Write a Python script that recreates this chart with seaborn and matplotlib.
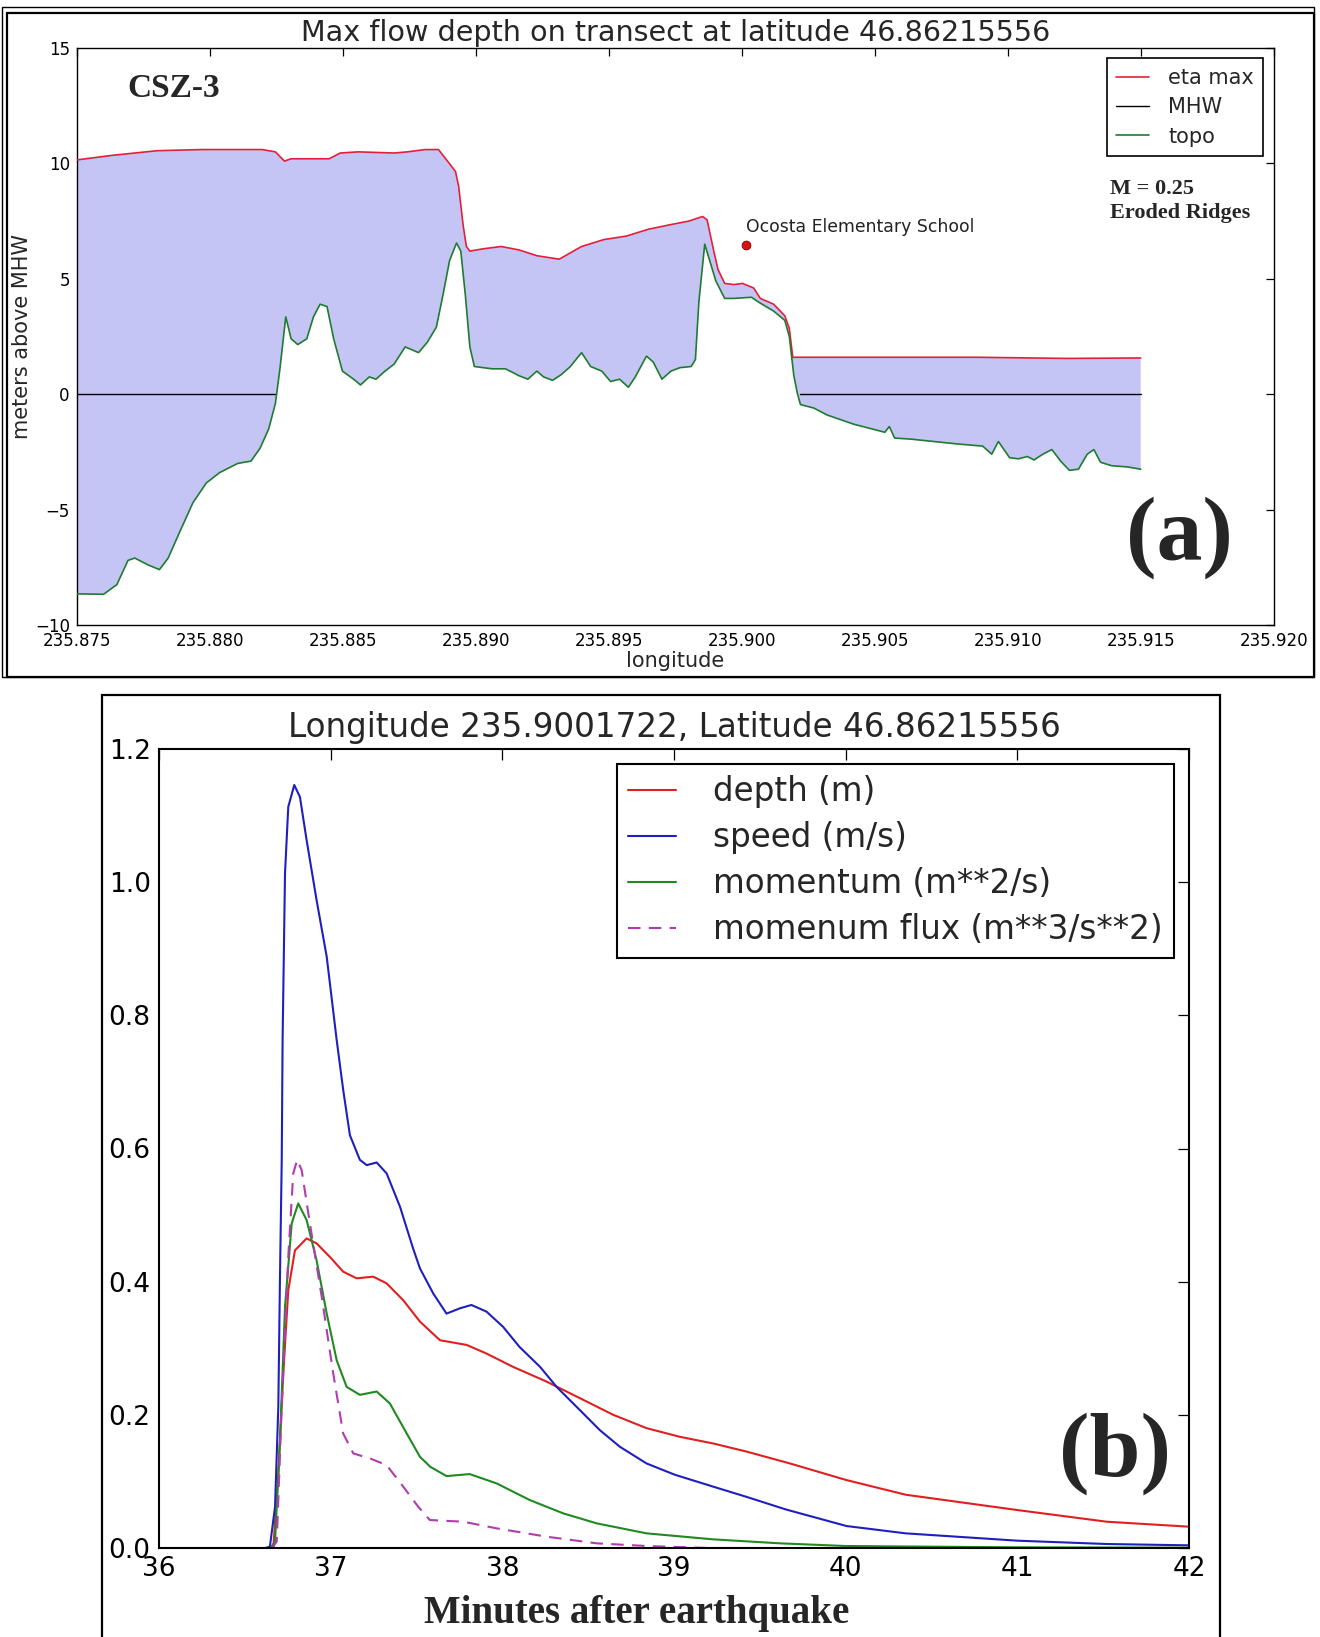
import numpy as np
import matplotlib
matplotlib.use("Agg")
import matplotlib.pyplot as plt
import seaborn as sns
from matplotlib.patches import Rectangle
from matplotlib.ticker import FormatStrFormatter, MultipleLocator

# ---- panel (a): transect at latitude 46.86215556 ----
topo_lon = [235.87500, 235.87601, 235.87651, 235.87693, 235.87718, 235.87769, 235.87811,
            235.87844, 235.87886, 235.87937, 235.87987, 235.88037, 235.88105, 235.88155,
            235.88189, 235.88222, 235.88247, 235.88264, 235.88286, 235.88306, 235.88331,
            235.88365, 235.88390, 235.88415, 235.88441, 235.88466, 235.88499, 235.88541,
            235.88567, 235.88600, 235.88625, 235.88659, 235.88693, 235.88735, 235.88785,
            235.88818, 235.88852, 235.88877, 235.88902, 235.88928, 235.88944, 235.88961,
            235.88978, 235.88995, 235.89028, 235.89062, 235.89112, 235.89163, 235.89196,
            235.89230, 235.89255, 235.89289, 235.89322, 235.89356, 235.89398, 235.89432,
            235.89474, 235.89507, 235.89541, 235.89574, 235.89600, 235.89642, 235.89667,
            235.89700, 235.89734, 235.89768, 235.89810, 235.89826, 235.89839, 235.89861,
            235.89878, 235.89903, 235.89936, 235.89970, 235.90037, 235.90062, 235.90120,
            235.90162, 235.90179, 235.90196, 235.90209, 235.90221, 235.90271, 235.90321,
            235.90421, 235.90505, 235.90538, 235.90555, 235.90575, 235.90639, 235.90722,
            235.90806, 235.90906, 235.90940, 235.90965, 235.91007, 235.91040, 235.91074,
            235.91099, 235.91132, 235.91166, 235.91199, 235.91232, 235.91266, 235.91299,
            235.91324, 235.91349, 235.91391, 235.91450, 235.91500]
topo_m = [-8.65, -8.67, -8.25, -7.2, -7.1, -7.4, -7.6,
          -7.1, -6.0, -4.7, -3.85, -3.4, -3.0, -2.9,
          -2.35, -1.5, -0.4, 1.1, 3.35, 2.4, 2.15,
          2.4, 3.35, 3.9, 3.8, 2.4, 1.0, 0.65,
          0.4, 0.75, 0.65, 1.0, 1.3, 2.05, 1.8,
          2.25, 2.9, 4.3, 5.8, 6.55, 6.2, 4.3,
          2.05, 1.2, 1.15, 1.1, 1.1, 0.8, 0.65,
          1.0, 0.75, 0.6, 0.85, 1.2, 1.8, 1.2,
          1.0, 0.55, 0.65, 0.3, 0.75, 1.65, 1.4,
          0.65, 1.0, 1.15, 1.2, 1.5, 4.0, 6.5,
          5.85, 4.9, 4.15, 4.15, 4.2, 4.0, 3.6,
          3.2, 2.5, 0.8, 0.05, -0.45, -0.6, -0.9,
          -1.3, -1.55, -1.65, -1.4, -1.9, -1.95, -2.05,
          -2.15, -2.25, -2.6, -2.05, -2.75, -2.8, -2.7,
          -2.85, -2.6, -2.4, -2.9, -3.3, -3.25, -2.6,
          -2.4, -2.95, -3.1, -3.15, -3.25]

eta_lon = [235.87500, 235.87634, 235.87802, 235.87970, 235.88197, 235.88247, 235.88264,
           235.88281, 235.88306, 235.88390, 235.88449, 235.88491, 235.88558, 235.88693,
           235.88743, 235.88810, 235.88860, 235.88894, 235.88924, 235.88936, 235.88953,
           235.88965, 235.88978, 235.89028, 235.89096, 235.89163, 235.89230, 235.89314,
           235.89398, 235.89482, 235.89566, 235.89650, 235.89734, 235.89801, 235.89853,
           235.89870, 235.89895, 235.89911, 235.89936, 235.89970, 235.90003, 235.90045,
           235.90070, 235.90120, 235.90162, 235.90179, 235.90192, 235.90221, 235.90555,
           235.90890, 235.91224, 235.91500]
eta_m = [10.15, 10.35, 10.55, 10.6, 10.6, 10.5, 10.3,
         10.1, 10.2, 10.2, 10.2, 10.45, 10.5, 10.45,
         10.5, 10.6, 10.6, 10.1, 9.65, 9.0, 7.3,
         6.4, 6.2, 6.3, 6.4, 6.25, 6.0, 5.85,
         6.4, 6.7, 6.85, 7.15, 7.35, 7.5, 7.7,
         7.55, 6.2, 5.4, 4.8, 4.75, 4.8, 4.6,
         4.15, 3.9, 3.4, 2.85, 1.6, 1.6, 1.6,
         1.6, 1.55, 1.57]

school_lon = [235.9001722]
school_m = [6.46]
school_name = "Ocosta Elementary School"

# ---- panel (b): gauge at longitude 235.9001722 ----
depth_t = [36.60, 36.666, 36.695, 36.724, 36.753, 36.792, 36.86, 36.918, 36.996, 37.073,
           37.151, 37.248, 37.326, 37.423, 37.52, 37.637, 37.792, 37.908, 38.063, 38.257,
           38.452, 38.646, 38.84, 39.034, 39.228, 39.42, 39.675, 40.005, 40.35, 41.0,
           41.52, 42.0]
depth_v = [0.0, 0.0, 0.112, 0.262, 0.387, 0.447, 0.465, 0.4575, 0.437, 0.415,
           0.405, 0.4075, 0.3975, 0.372, 0.34, 0.312, 0.305, 0.292, 0.272, 0.25,
           0.225, 0.2, 0.18, 0.167, 0.157, 0.145, 0.127, 0.102, 0.08, 0.057,
           0.0395, 0.032]

speed_t = [36.62, 36.646, 36.676, 36.695, 36.705, 36.715, 36.72, 36.734, 36.753, 36.788,
           36.821, 36.86, 36.918, 36.977, 37.035, 37.073, 37.112, 37.17, 37.21, 37.268,
           37.326, 37.404, 37.48, 37.52, 37.598, 37.675, 37.753, 37.82, 37.908, 38.005,
           38.10, 38.22, 38.316, 38.452, 38.568, 38.685, 38.84, 39.005, 39.23, 39.42,
           39.65, 40.005, 40.35, 41.0, 41.52, 42.0]
speed_v = [0.0, 0.002, 0.062, 0.212, 0.412, 0.583, 0.763, 1.013, 1.113, 1.146,
           1.128, 1.063, 0.973, 0.888, 0.763, 0.688, 0.62, 0.583, 0.575, 0.579,
           0.5626, 0.5125, 0.45, 0.42, 0.382, 0.352, 0.36, 0.365, 0.355, 0.332,
           0.302, 0.272, 0.242, 0.207, 0.177, 0.152, 0.127, 0.110, 0.092, 0.077,
           0.058, 0.033, 0.022, 0.011, 0.006, 0.004]

mom_t = [36.65, 36.676, 36.705, 36.734, 36.773, 36.811, 36.86, 36.918, 36.977, 37.035,
         37.093, 37.17, 37.268, 37.345, 37.443, 37.52, 37.58, 37.675, 37.81, 37.967,
         38.16, 38.355, 38.55, 38.84, 39.228, 39.617, 40.0, 41.0, 42.0]
mom_v = [0.0, 0.01, 0.162, 0.362, 0.4875, 0.5175, 0.4925, 0.432, 0.352, 0.282,
         0.242, 0.23, 0.235, 0.217, 0.172, 0.137, 0.122, 0.108, 0.111, 0.097,
         0.072, 0.052, 0.037, 0.022, 0.013, 0.007, 0.003, 0.001, 0.0005]

flux_t = [36.66, 36.686, 36.715, 36.753, 36.782, 36.805, 36.831, 36.879, 36.948, 37.015,
          37.073, 37.132, 37.229, 37.326, 37.423, 37.51, 37.578, 37.772, 37.967, 38.258,
          38.55, 38.84, 39.2]
flux_v = [0.0, 0.01, 0.212, 0.437, 0.5626, 0.583, 0.5675, 0.4875, 0.377, 0.262,
          0.172, 0.142, 0.1345, 0.1245, 0.092, 0.062, 0.042, 0.0395, 0.0295, 0.017,
          0.007, 0.003, 0.0]

sns.set_theme(style="white")
plt.rcParams["font.family"] = ["DejaVu Sans"]
plt.rcParams["axes.unicode_minus"] = True

fig = plt.figure(figsize=(13.2, 16.37), dpi=100)
W, H = 1320.0, 1637.0


def fig_box(x0, y0, x1, y1, lw):
    # box given in pixel coords measured from the top-left corner
    fig.add_artist(Rectangle((x0 / W, 1 - y1 / H), (x1 - x0) / W, (y1 - y0) / H,
                             transform=fig.transFigure, fill=False, edgecolor="black",
                             linewidth=lw, zorder=0))


fig_box(1.5, 6.5, 1314, 677, 1.0)
fig_box(7, 13, 1314, 677, 1.6)
fig_box(101.5, 695, 1219.5, 1660, 1.6)


def style_axes(ax, size, tick_len, lw, pad):
    for s in ax.spines.values():
        s.set_visible(True)
        s.set_color("black")
        s.set_linewidth(lw)
    ax.tick_params(direction="in", top=True, right=True, length=tick_len, width=0.9,
                   colors="black", labelsize=size, pad=pad)
    ax.grid(False)
    ax.set_facecolor("white")


# ---------- (a) ----------
ax1 = fig.add_axes([76.7 / W, 1 - 625 / H, (1273.7 - 76.7) / W, (625 - 48) / H])
ax1.fill(np.r_[eta_lon, topo_lon[::-1]], np.r_[eta_m, topo_m[::-1]],
         color="#c5c5f5", linewidth=0, zorder=1)
sns.lineplot(x=eta_lon, y=eta_m, ax=ax1, color="#e3203a", linewidth=1.2,
             label="eta max", zorder=3)
mhw = np.where(np.array(topo_m) < 0, 0.0, np.nan)
ax1.plot(topo_lon, mhw, color="black", linewidth=1.0, label="MHW", zorder=2)
sns.lineplot(x=topo_lon, y=topo_m, ax=ax1, color="#1e7b30", linewidth=1.2,
             label="topo", zorder=3)
sns.scatterplot(x=school_lon, y=school_m, ax=ax1, color="#dd1111", s=40,
                edgecolor="#7a0000", linewidth=0.6, zorder=4)
ax1.text(school_lon[0], 6.85, school_name, fontsize=12.4, ha="left", va="bottom",
         color="#222222")

ax1.set_xlim(235.875, 235.920)
ax1.set_ylim(-10, 15)
ax1.xaxis.set_major_locator(MultipleLocator(0.005))
ax1.xaxis.set_major_formatter(FormatStrFormatter("%.3f"))
ax1.yaxis.set_major_locator(MultipleLocator(5))
style_axes(ax1, 12, 6, 1.0, 5)
ax1.set_title("Max flow depth on transect at latitude 46.86215556", fontsize=20.6, pad=5.3)
ax1.set_xlabel("longitude", fontsize=15, labelpad=1)
ax1.set_ylabel("meters above MHW", fontsize=15, labelpad=2)
h, l = ax1.get_legend_handles_labels()
leg1 = ax1.legend(h, l, loc="upper right", fontsize=15, frameon=True, fancybox=False,
                  edgecolor="black", framealpha=1, handlelength=1.6, handletextpad=0.9,
                  labelspacing=0.45, borderpad=0.45, borderaxespad=0.5)
leg1.get_frame().set_linewidth(1.2)

ax1.text(0.042, 0.93, "CSZ-3", transform=ax1.transAxes, fontsize=24,
         family="Liberation Serif", weight="bold", ha="left", va="center")
ax1.text(0.863, 0.735, "M = 0.25\nEroded Ridges", transform=ax1.transAxes, fontsize=16,
         family="Liberation Serif", weight="bold", ha="left", va="center", linespacing=1.3)
ax1.text(0.921, 0.152, "(a)", transform=ax1.transAxes, fontsize=66,
         family="Liberation Serif", weight="bold", ha="center", va="center")

# ---------- (b) ----------
ax2 = fig.add_axes([159 / W, 1 - 1548 / H, (1189 - 159) / W, (1548 - 749) / H])
sns.lineplot(x=depth_t, y=depth_v, ax=ax2, color="#e02020", linewidth=1.5,
             label="depth (m)")
sns.lineplot(x=speed_t, y=speed_v, ax=ax2, color="#1f1fbf", linewidth=1.5,
             label="speed (m/s)")
sns.lineplot(x=mom_t, y=mom_v, ax=ax2, color="#1f8a1f", linewidth=1.5,
             label="momentum (m**2/s)")
sns.lineplot(x=flux_t, y=flux_v, ax=ax2, color="#b03cb0", linewidth=1.5,
             linestyle=(0, (6, 4)), label="momenum flux (m**3/s**2)")

ax2.set_xlim(36, 42)
ax2.set_ylim(0, 1.2)
ax2.xaxis.set_major_locator(MultipleLocator(1))
ax2.yaxis.set_major_locator(MultipleLocator(0.2))
ax2.yaxis.set_major_formatter(FormatStrFormatter("%.1f"))
style_axes(ax2, 19, 8, 1.5, 6)
ax2.set_xlabel("")
ax2.set_ylabel("")
ax2.set_title("Longitude 235.9001722, Latitude 46.86215556", fontsize=23.5, pad=9)
h, l = ax2.get_legend_handles_labels()
leg2 = ax2.legend(h, l, loc="upper right", fontsize=23.5, frameon=True, fancybox=False,
                  edgecolor="black", framealpha=1, handlelength=1.45, handletextpad=1.15,
                  labelspacing=0.4, borderpad=0.35, borderaxespad=0.45)
leg2.get_frame().set_linewidth(1.5)

fig.text(637 / W, 1 - 1613 / H, "Minutes after earthquake", fontsize=28,
         family="Liberation Serif", weight="bold", ha="center", va="center")
ax2.text(0.928, 0.118, "(b)", transform=ax2.transAxes, fontsize=66,
         family="Liberation Serif", weight="bold", ha="center", va="center")

fig.savefig("out.png", dpi=100, facecolor="white")
